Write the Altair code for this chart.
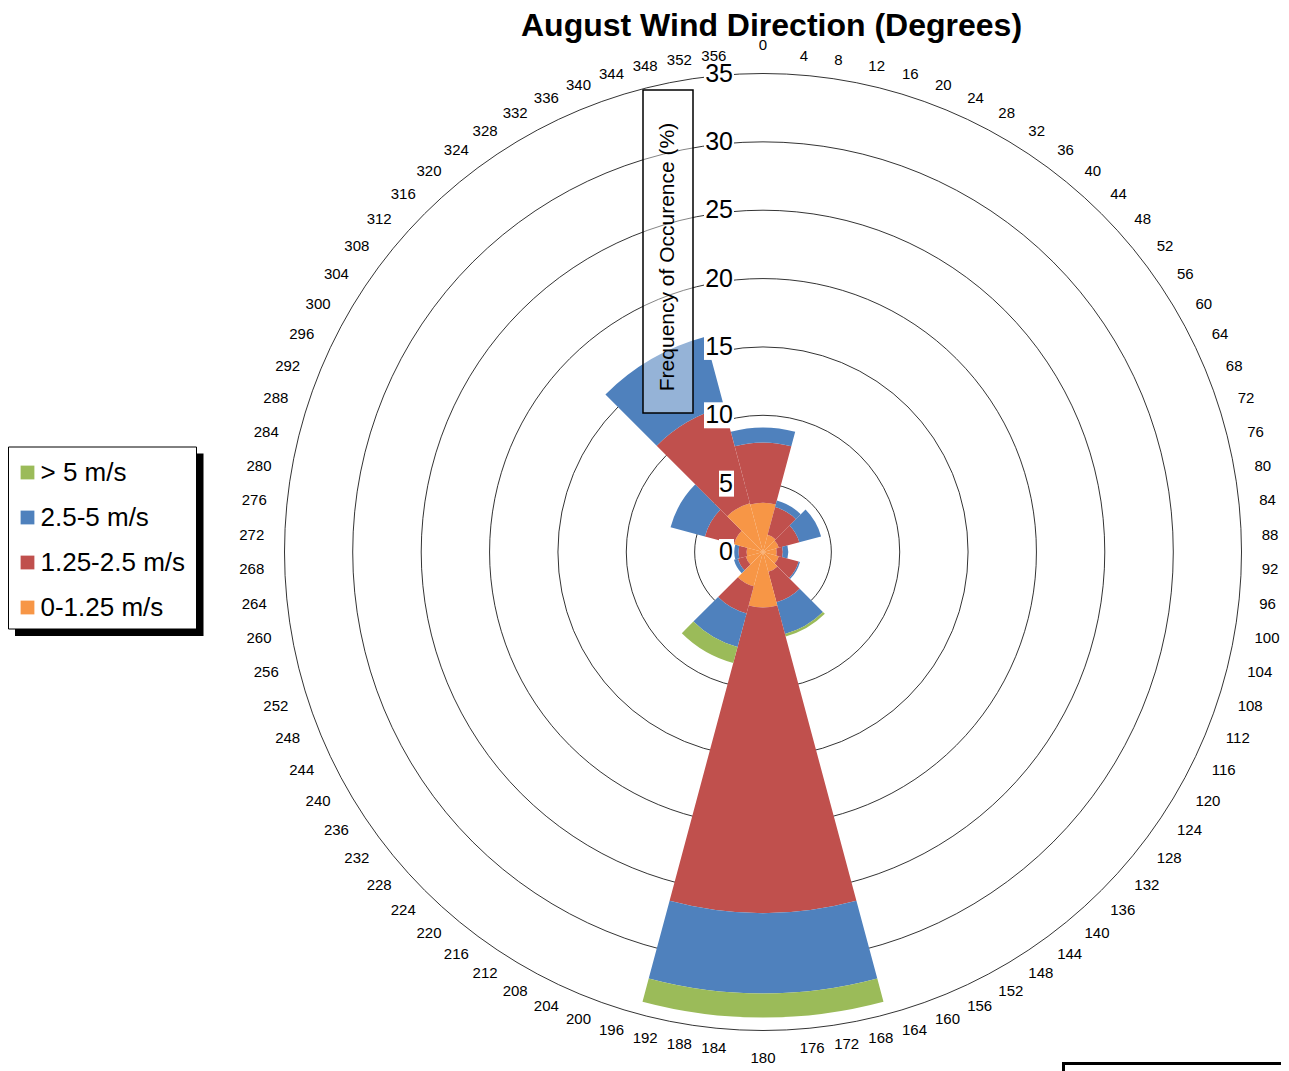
import math
import altair as alt
import pandas as pd

# ---------------- data ----------------
directions = [0, 30, 60, 90, 120, 150, 180, 210, 240, 270, 300, 330]
speed_0_125 = [3.6, 1.3, 1.2, 1.0, 1.2, 1.5, 4.05, 2.6, 1.3, 1.2, 2.2, 3.7]
speed_125_25 = [4.4, 2.1, 1.55, 0.45, 1.5, 2.3, 22.35, 2.05, 0.6, 0.6, 2.2, 7.3]
speed_25_5 = [1.1, 0.5, 1.65, 0.4, 0.1, 2.4, 5.9, 2.55, 0.3, 0.3, 2.6, 5.3]
speed_gt5 = [0.0, 0.0, 0.0, 0.0, 0.0, 0.2, 1.75, 1.2, 0.0, 0.0, 0.0, 0.0]
bin_names = ["0-1.25 m/s", "1.25-2.5 m/s", "2.5-5 m/s", "> 5 m/s"]
bin_colors = ["#F79646", "#C0504D", "#4F81BD", "#9BBB59"]
sector_width = 30
angle_labels = list(range(0, 360, 4))
radial_ticks = [0, 5, 10, 15, 20, 25, 30, 35]
ring_values = [5, 10, 15, 20, 25, 30, 35]

TITLE = "August Wind Direction (Degrees)"
YTITLE = "Frequency of Occurence (%)"
FONT = "Liberation Sans"

# ---------------- layout ----------------
W, H = 1273, 1063
CX, CY = 755, 544
RMAX = 478.5

rows = []
series = [speed_0_125, speed_125_25, speed_25_5, speed_gt5]
for i, d in enumerate(directions):
    cum = 0.0
    for name, vals in zip(bin_names, series):
        v = vals[i]
        if v > 0:
            rows.append({"dir": d, "start": d - sector_width / 2, "end": d + sector_width / 2,
                         "inner": cum, "outer": cum + v, "bin": name})
        cum += v
wedges = pd.DataFrame(rows)

theta_scale = alt.Scale(type="linear", domain=[0, 360], range=[0, 2 * math.pi], nice=False, zero=False)
radius_scale = alt.Scale(type="linear", domain=[0, 35], range=[0, RMAX], zero=True, nice=False)
y_scale = alt.Scale(type="linear", domain=[0, 35], range=[CY, CY - RMAX], zero=True, nice=False)

one = pd.DataFrame({"k": [0]})

shadow = alt.Chart(one).mark_rect(color="black").encode(
    x=alt.value(7), x2=alt.value(195.5), y=alt.value(445.5), y2=alt.value(628))
legend_box = alt.Chart(one).mark_rect(fill="white", stroke="black", strokeWidth=1).encode(
    x=alt.value(0.5), x2=alt.value(188.5), y=alt.value(439), y2=alt.value(621))

rings = alt.Chart(pd.DataFrame({"r": ring_values})).mark_arc(
    fillOpacity=0, stroke="black", strokeWidth=0.8).encode(
    x=alt.value(CX), y=alt.value(CY),
    theta=alt.value(0), theta2=alt.value(2 * math.pi),
    radius=alt.Radius("r:Q", scale=radius_scale, stack=False))

wedge_layer = alt.Chart(wedges).mark_arc(strokeWidth=0).encode(
    x=alt.value(CX), y=alt.value(CY),
    theta=alt.Theta("start:Q", scale=theta_scale, stack=False),
    theta2="end:Q",
    radius=alt.Radius("outer:Q", scale=radius_scale, stack=False),
    radius2="inner:Q",
    color=alt.Color("bin:N",
                    scale=alt.Scale(domain=bin_names[::-1], range=bin_colors[::-1]),
                    legend=alt.Legend(orient="none", legendX=6.5, legendY=451.5, title=None,
                                      symbolType="square", symbolSize=190, symbolStrokeWidth=0,
                                      labelFontSize=26, labelFont=FONT, labelColor="black",
                                      labelOffset=0, rowPadding=19, padding=0,
                                      labelLimit=400)),
    order=alt.Order("dir:Q"))

tick_df = pd.DataFrame({"r": radial_ticks, "label": [str(t) for t in radial_ticks]})
box1 = alt.Chart(tick_df).transform_filter("datum.r < 10").mark_rect(
    color="white", yOffset=-13, y2Offset=13).encode(
    x=alt.value(CX - 44), x2=alt.value(CX - 29),
    y=alt.Y("r:Q", scale=y_scale, axis=None), y2="r:Q")
box2 = alt.Chart(tick_df).transform_filter("datum.r >= 10").mark_rect(
    color="white", yOffset=-13, y2Offset=13).encode(
    x=alt.value(CX - 59), x2=alt.value(CX - 29),
    y=alt.Y("r:Q", scale=y_scale, axis=None), y2="r:Q")
radial_text = alt.Chart(tick_df).mark_text(
    align="right", baseline="middle", dx=-30, fontSize=25, font=FONT, color="black").encode(
    x=alt.value(CX), y=alt.value(CY),
    theta=alt.value(0),
    radius=alt.Radius("r:Q", scale=radius_scale, stack=False),
    text="label:N")

ang_df = pd.DataFrame({"a": angle_labels, "label": [str(a) for a in angle_labels]})


def angle_layer(filt, align, dx, rad):
    return alt.Chart(ang_df).transform_filter(filt).mark_text(
        align=align, baseline="middle", dx=dx, fontSize=15, font=FONT, color="black").encode(
        x=alt.value(CX), y=alt.value(CY),
        theta=alt.Theta("a:Q", scale=theta_scale, stack=False),
        radius=alt.value(rad),
        text="label:N")


ang_right = angle_layer("datum.a > 0 && datum.a < 180", "left", 2, 497)
ang_left = angle_layer("datum.a > 180", "right", -2, 497)
ang_top = angle_layer("datum.a == 0", "center", 0, 507)
ang_bottom = angle_layer("datum.a == 180", "center", 0, 506)

ybox = alt.Chart(one).mark_rect(fill="white", fillOpacity=0.4, stroke="black", strokeWidth=1.5).encode(
    x=alt.value(635), x2=alt.value(685), y=alt.value(82), y2=alt.value(405))
ytitle = alt.Chart(one).mark_text(
    text=YTITLE, angle=270, align="center", baseline="middle", fontSize=21, font=FONT,
    color="black").encode(x=alt.value(660), y=alt.value(249))
title = alt.Chart(one).mark_text(
    text=TITLE, align="center", baseline="middle", fontSize=32, fontWeight="bold", font=FONT,
    color="black").encode(x=alt.value(763.5), y=alt.value(17.5))
corner = alt.Chart(one).mark_rect(fillOpacity=0, stroke="black", strokeWidth=3).encode(
    x=alt.value(1055.5), x2=alt.value(1320), y=alt.value(1055.5), y2=alt.value(1120))

chart = alt.layer(
    shadow, legend_box, rings, wedge_layer, box1, box2, radial_text,
    ang_right, ang_left, ang_top, ang_bottom,
    ybox, ytitle, title, corner
).properties(
    width=W, height=H, autosize=alt.AutoSizeParams(type="none"), padding=0
).configure_view(stroke=None)

chart.save("out.html", embed_options={"renderer": "svg", "actions": False})
